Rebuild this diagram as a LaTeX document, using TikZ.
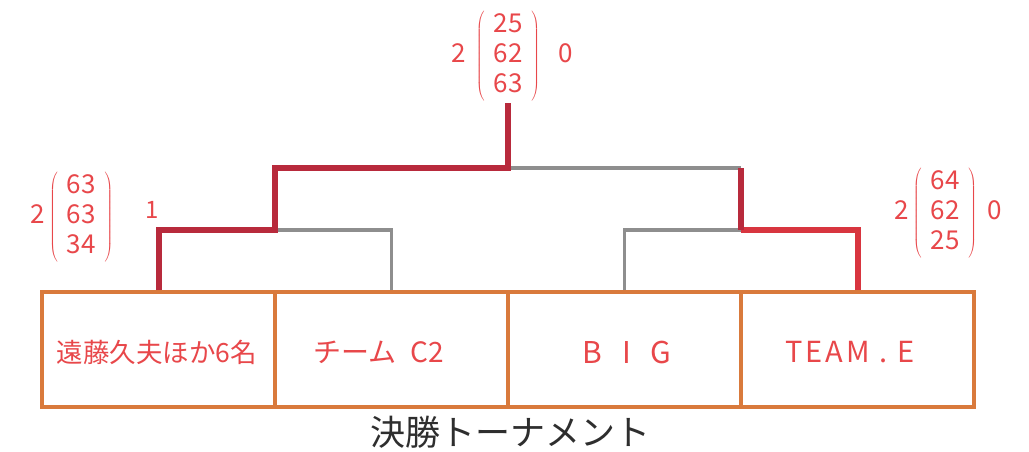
\documentclass[tikz,border=0pt]{standalone}
\usepackage{fontspec}
\newfontfamily\cjk{Noto Sans CJK JP}
\definecolor{boxor}{HTML}{D97A3C}
\definecolor{pen}{HTML}{E8474A}
\definecolor{win}{HTML}{B82A3C}
\definecolor{winb}{HTML}{D8353F}
\definecolor{lose}{HTML}{8E8E8E}
\newcommand{\scm}[3]{\left(\hspace{9pt}\begin{array}{@{}c@{}}\mbox{#1}\\\mbox{#2}\\\mbox{#3}\end{array}\hspace{9pt}\right)}
\tikzset{
  team/.style={draw=boxor, line width=4pt, minimum width=233pt, minimum height=115pt, inner sep=0pt},
  teamtext/.style={text=pen, inner sep=0pt, font=\cjk\fontsize{28}{32}\selectfont},
  winline/.style={draw=win, line width=6pt, line join=miter},
  winlineb/.style={draw=winb, line width=6pt, line join=miter},
  loseline/.style={draw=lose, line width=3.5pt},
  score/.style={text=pen, inner sep=0pt, font=\cjk\fontsize{26}{30}\selectfont},
  titlefont/.style={text=black!82, font=\cjk\fontsize{35}{40}\selectfont}
}
\begin{document}
\begin{tikzpicture}[x=1pt,y=-1pt]
\useasboundingbox[fill=white] (0,0) rectangle (1029,451);
% team boxes
\node[team] (b1) at (158.5,349.5) {};
\node[team] (b2) at (391.5,349.5) {};
\node[team] (b3) at (624.5,349.5) {};
\node[team] (b4) at (857.5,349.5) {};
\node[teamtext, font=\cjk\fontsize{26.5}{32}\selectfont] (t1) at (157,352) {遠藤久夫ほか6名};
\node[teamtext] (t2) at (379,352) {チーム\hspace{14pt}C2};
\node[teamtext, font=\cjk\fontsize{30}{32}\selectfont] (t3) at (627,352) {B\hspace{20pt}I\hspace{20pt}G};
\node[teamtext, font=\cjk\fontsize{29}{32}\selectfont] (t4) at (850,352) {T\hspace{3pt}E\hspace{3pt}A\hspace{3pt}M\hspace{10pt}.\hspace{10pt}E};
% joints
\coordinate (j1) at (275,230);
\coordinate (j2) at (741,230);
\coordinate (j0) at (508,168);
\coordinate (j2t) at (741,168);
\coordinate (top) at (508,103);
% losing lines
\draw[loseline] (b2.north) |- (j1);
\draw[loseline] (b3.north) |- (j2);
\draw[loseline] (j0) -- (j2t);
% winning lines
\draw[winline] (b1.north) |- (j1) |- (j0) -- (top);
\draw[winlineb] (b4.north) |- (j2);
\draw[winline] (j2) -- (j2t);
% scores
\node[score] (s0) at (512,56) {2\hspace{10pt}$\scm{25}{62}{63}$\hspace{18pt}0};
\node[score] (s1) at (72,217) {2\hspace{4pt}$\scm{63}{63}{34}$};
\node[score, font=\cjk\fontsize{24}{26}\selectfont] (s1b) at (152,210) {1};
\node[score] (s2) at (948,213) {2\hspace{4pt}$\scm{64}{62}{25}$\hspace{10pt}0};
% title
\node[titlefont] (title) at (510,432) {決勝トーナメント};
\end{tikzpicture}
\end{document}
